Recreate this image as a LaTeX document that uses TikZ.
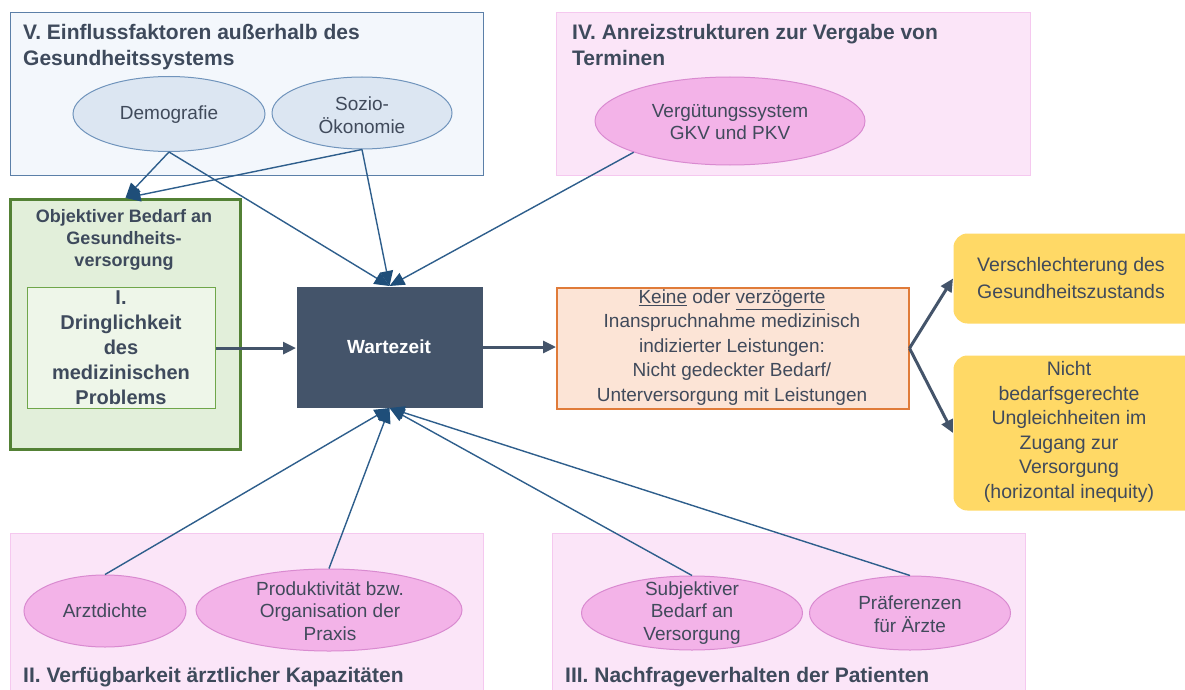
\documentclass[tikz,border=0pt]{standalone}
\usepackage{fontspec}
\setmainfont{Liberation Sans}
\usetikzlibrary{shapes.geometric,arrows.meta}
\definecolor{txt}{HTML}{404A5B}
\definecolor{titlecol}{HTML}{3E4A5C}
\definecolor{bluefill}{HTML}{F3F7FC}
\definecolor{blueline}{HTML}{5B7FA8}
\definecolor{ellblue}{HTML}{DCE6F2}
\definecolor{ellblueline}{HTML}{7094BC}
\definecolor{pinkfill}{HTML}{FBE5F8}
\definecolor{pinkline}{HTML}{F5C8EF}
\definecolor{ellpink}{HTML}{F3B3E8}
\definecolor{ellpinkline}{HTML}{D98AD0}
\definecolor{greenfill}{HTML}{E2EFDA}
\definecolor{greenline}{HTML}{538135}
\definecolor{innerfill}{HTML}{EEF6E9}
\definecolor{innerline}{HTML}{6FA64A}
\definecolor{slate}{HTML}{44546A}
\definecolor{orangefill}{HTML}{FCE4D6}
\definecolor{orangeline}{HTML}{E07B39}
\definecolor{yellow}{HTML}{FFD966}
\definecolor{conncol}{HTML}{2E5E8C}
\definecolor{tipcol}{HTML}{1F4E79}
\begin{document}
\begin{tikzpicture}[x=1pt,y=-1pt,
  panel/.style={rectangle, anchor=north west, inner sep=0, line width=1pt},
  bluepanel/.style={panel, fill=bluefill, draw=blueline},
  pinkpanel/.style={panel, fill=pinkfill, draw=pinkline},
  ell/.style={ellipse, inner sep=0, line width=1pt},
  blueell/.style={ell, fill=ellblue, draw=ellblueline},
  pinkell/.style={ell, fill=ellpink, draw=ellpinkline},
  body/.style={font=\fontsize{19}{22.5}\selectfont, text=txt, align=center, inner sep=0},
  title/.style={font=\fontsize{21}{26}\selectfont\bfseries, text=titlecol, align=left, inner sep=0},
  conn/.style={draw=conncol, line width=1.4pt, -{Triangle[length=15pt,width=13pt,color=tipcol]}},
  darr/.style={draw=slate, line width=3pt, -{Triangle[length=13pt,width=12pt]}},
  ybox/.style={panel, fill=yellow, rounded corners=14pt}
]
\useasboundingbox (0,0) rectangle (1185,690);
\clip (0,0) rectangle (1185,690);
\fill[white] (0,0) rectangle (1185,690);

% panels
\node[bluepanel, minimum width=473, minimum height=163] (boxV) at (10,12) {};
\node[pinkpanel, minimum width=474, minimum height=163] (boxIV) at (556,12) {};
\node[pinkpanel, minimum width=473, minimum height=170] (boxII) at (10,533) {};
\node[pinkpanel, minimum width=473, minimum height=170] (boxIII) at (552,533) {};

% titles
\node[title, anchor=north west] (tV) at (23,24) {V.\ Einflussfaktoren außerhalb des\\Gesundheitssystems};
\node[title, anchor=north west] (tIV) at (572,24) {IV.\ Anreizstrukturen zur Vergabe von\\Terminen};
\node[title, anchor=base west] (tII) at (23,682) {II.\ Verfügbarkeit ärztlicher Kapazitäten};
\node[title, anchor=base west] (tIII) at (565,682) {III.\ Nachfrageverhalten der Patienten};

% ellipses
\node[blueell, minimum width=192, minimum height=75] (demo) at (169,114) {};
\node[body] (demot) at (169,115) {Demografie};
\node[blueell, minimum width=180, minimum height=72] (sozio) at (362,113) {};
\node[body] (soziot) at (362,115) {Sozio-\\Ökonomie};
\node[pinkell, minimum width=270, minimum height=88] (verg) at (730,121) {};
\node[body] (vergt) at (730,122) {Vergütungssystem\\GKV und PKV};
\node[pinkell, minimum width=162, minimum height=72] (arzt) at (105,611) {};
\node[body] (arztt) at (105,611) {Arztdichte};
\node[pinkell, minimum width=266, minimum height=82] (prod) at (329,610) {};
\node[body] (prodt) at (330,611) {Produktivität bzw.\\Organisation der\\Praxis};
\node[pinkell, minimum width=221, minimum height=74] (subj) at (692,613) {};
\node[body] (subjt) at (692,613) {Subjektiver\\Bedarf an\\Versorgung};
\node[pinkell, minimum width=201, minimum height=74] (praef) at (910,613) {};
\node[body] (praeft) at (910,614) {Präferenzen\\für Ärzte};

% green box
\node[panel, fill=greenfill, draw=greenline, line width=3pt, minimum width=230, minimum height=250] (green) at (9,198) {};
\node[body, font=\fontsize{18}{22}\selectfont\bfseries, text=titlecol] (greent) at (124,240) {Objektiver Bedarf an\\Gesundheits-\\versorgung};
\node[panel, fill=innerfill, draw=innerline, line width=1.2pt, minimum width=188, minimum height=121] (inner) at (27,287) {};
\node[body, font=\fontsize{20}{25}\selectfont\bfseries, text=titlecol] (innert) at (121,347.5) {I.\\Dringlichkeit\\des\\medizinischen\\Problems};

% Wartezeit
\node[panel, fill=slate, minimum width=186, minimum height=121] (wz) at (296,286) {};
\node[body, font=\fontsize{19}{22}\selectfont\bfseries, text=white] (wzt) at (389,347) {Wartezeit};

% orange box
\node[panel, fill=orangefill, draw=orangeline, line width=1.5pt, minimum width=352, minimum height=121] (orange) at (556,287) {};
\node[body, font=\fontsize{19}{24.5}\selectfont] (oranget) at (732,347.5) {\underline{Keine} oder \underline{verzögerte}\\Inanspruchnahme medizinisch\\indizierter Leistungen:\\Nicht gedeckter Bedarf/\\Unterversorgung mit Leistungen};

% yellow boxes
\node[ybox, minimum width=260, minimum height=90] (yel1) at (953,233) {};
\node[body, font=\fontsize{19.5}{27}\selectfont] (yel1t) at (1071,278.5) {Verschlechterung des\\Gesundheitszustands};
\node[ybox, minimum width=260, minimum height=155] (yel2) at (953,355) {};
\node[body, font=\fontsize{19.5}{24.6}\selectfont] (yel2t) at (1069,432) {Nicht\\bedarfsgerechte\\Ungleichheiten im\\Zugang zur\\Versorgung\\(horizontal inequity)};

% connectors
\draw[conn] (demo.south) -- (green.north);
\draw[conn] (sozio.south) -- (green.north);
\draw[conn] (demo.south) -- (wz.north);
\draw[conn] (sozio.south) -- (wz.north);
\draw[conn] (verg.198) -- (wz.north);
\draw[conn] (arzt.north) -- (wz.south);
\draw[conn] (prod.north) -- (wz.south);
\draw[conn] (subj.north) -- (wz.south);
\draw[conn] (praef.north) -- (wz.south);
\draw[darr] (inner.east) -- (inner.east -| wz.west);
\draw[darr] (wz.east) -- (wz.east -| orange.west);
\draw[darr] (orange.east) -- (yel1.west);
\draw[darr] (orange.east) -- (yel2.west);
\end{tikzpicture}
\end{document}
